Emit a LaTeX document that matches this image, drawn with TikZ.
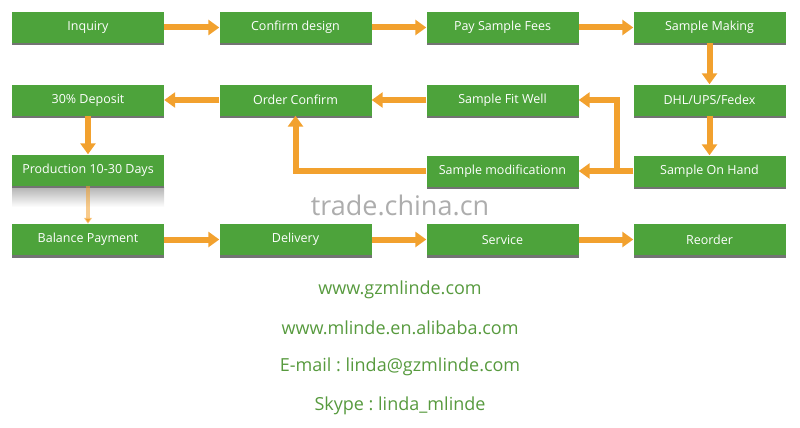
\documentclass[tikz,border=0pt]{standalone}
\usepackage{fontspec}
\setmainfont{Open Sans}
\usetikzlibrary{arrows.meta,shadows}
\definecolor{boxgreen}{HTML}{4DA33B}
\definecolor{arrorange}{HTML}{F2A12E}
\definecolor{txtgreen}{HTML}{579A3E}
\frenchspacing
\begin{document}
\begin{tikzpicture}[x=1pt,y=-1pt,
  stepbox/.style={rectangle, fill=boxgreen, text=white, minimum width=152pt,
    minimum height=31pt, inner sep=0pt, font=\fontsize{12.5}{14}\selectfont,
    drop shadow={shadow xshift=0pt, shadow yshift=-2.5pt, fill=black!55, opacity=1}},
  flow/.style={draw=arrorange, line width=6pt, -{Triangle[length=11pt,width=15pt]}},
  info/.style={text=txtgreen, font=\fontsize{18}{21}\selectfont}]
\useasboundingbox (0,0) rectangle (800,428);
% reflection under production box
\shade[top color=black!30, bottom color=white] (12,187) rectangle (164,207);
% boxes
\node[stepbox] (inq) at (88,27.5) {Inquiry};
\node[stepbox] (cd) at (295.5,27.5) {Confirm design};
\node[stepbox] (pay) at (502.5,27.5) {Pay Sample Fees};
\node[stepbox] (mk) at (709.5,27.5) {Sample Making};
\node[stepbox] (dep) at (88,100) {30\% Deposit};
\node[stepbox] (oc) at (295.5,100) {Order Confirm};
\node[stepbox] (fit) at (502.5,100) {Sample Fit Well};
\node[stepbox] (dhl) at (709.5,100) {DHL/UPS/Fedex};
\node[stepbox] (prod) at (88,170) {Production 10-30 Days};
\node[stepbox] (mod) at (502.5,171) {Sample modificationn};
\node[stepbox] (hand) at (709.5,171) {Sample On Hand};
\node[stepbox] (bal) at (88,239.5) {Balance Payment};
\node[stepbox] (del) at (295.5,239.5) {Delivery};
\node[stepbox] (srv) at (502.5,239.5) {Service};
\node[stepbox] (reo) at (709.5,239.5) {Reorder};
% watermark
\node[text=black!32, font=\fontsize{27}{30}\selectfont] (wm) at (400,205) {trade.china.cn};
% connectors
\draw[flow] (inq) -- (cd);
\draw[flow] (cd) -- (pay);
\draw[flow] (pay) -- (mk);
\draw[flow] (mk) -- (dhl);
\draw[flow] (dhl) -- (hand);
\draw[flow] (hand.west) -- (mod.east);
\draw[flow] (hand.west) -- ++(-16,0) |- (fit.east);
\draw[flow] (fit) -- (oc);
\draw[flow] (mod.west) -| (oc.south);
\draw[flow] (oc) -- (dep);
\draw[flow] (dep) -- (prod);
\draw[flow, line width=4pt, draw opacity=0.55, -{Triangle[length=6pt,width=8pt]}] (prod) -- (bal);
\draw[flow] (bal) -- (del);
\draw[flow] (del) -- (srv);
\draw[flow] (srv) -- (reo);
% contact texts
\node[info] (web1) at (400,290) {www.gzmlinde.com};
\node[info] (web2) at (400,328) {www.mlinde.en.alibaba.com};
\node[info] (mail) at (400,367) {E-mail : linda@gzmlinde.com};
\node[info] (sky) at (400,406) {Skype : linda\_mlinde};
\end{tikzpicture}
\end{document}
